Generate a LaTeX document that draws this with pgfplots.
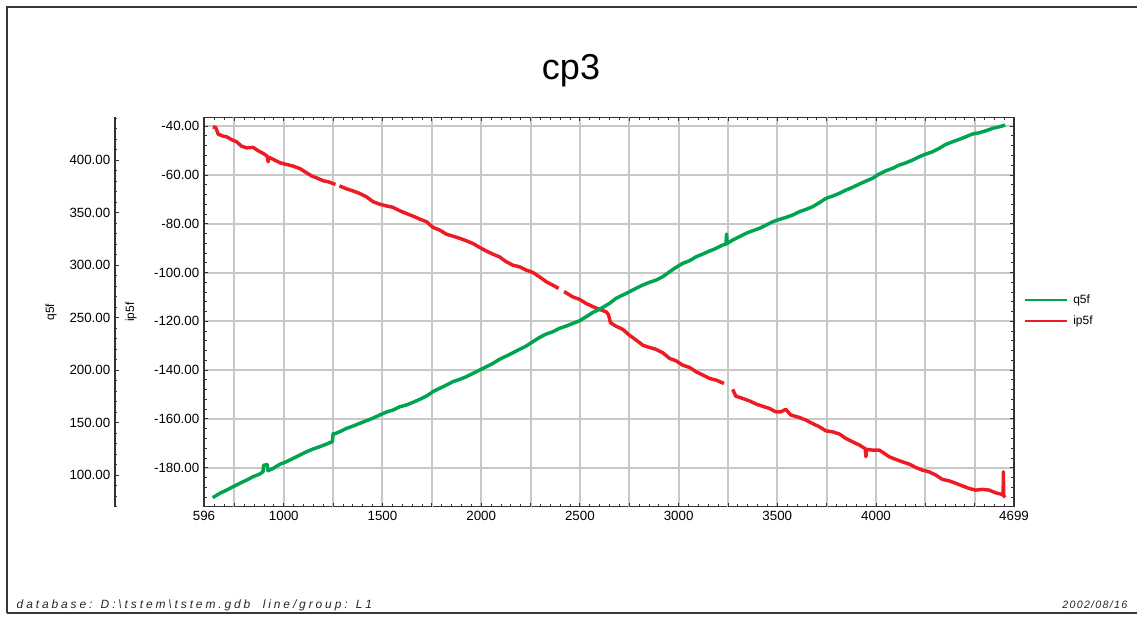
\documentclass[border=0pt]{standalone}
\usepackage{pgfplots}
\pgfplotsset{compat=1.18}
\usepackage{fontspec}
\setmainfont{Liberation Sans}
\newfontfamily\footfont[LetterSpace=12]{Liberation Sans}
\newfontfamily\footwidefont[LetterSpace=24]{Liberation Sans}

\definecolor{seriesA}{RGB}{0,163,80}
\definecolor{seriesB}{RGB}{237,28,36}
\definecolor{gridgray}{RGB}{200,200,200}
\definecolor{framegray}{RGB}{55,55,55}

% ip5f trace (nan rows mark the gaps in the record)
\pgfplotstableread{
x y
640 -40.3
655 -40.5
668 -43.3
690 -44.0
711 -44.4
735 -45.5
761 -46.4
786 -48.2
812 -48.9
845 -48.7
871 -50.1
896 -51.2
916 -52.3
921 -54.6
925 -52.8
947 -53.6
980 -55.0
1014 -55.7
1048 -56.4
1082 -57.4
1107 -58.7
1141 -60.4
1166 -61.2
1200 -62.4
1225 -62.8
1262 -63.9
1270 nan
1282 -64.5
1318 -65.7
1352 -66.6
1385 -67.6
1419 -69.0
1453 -71.0
1486 -72.0
1520 -72.7
1554 -73.3
1588 -74.7
1621 -75.8
1655 -76.9
1689 -78.1
1723 -79.2
1756 -81.5
1790 -82.6
1824 -84.3
1857 -85.1
1891 -86.0
1925 -87.0
1958 -88.1
1992 -89.7
2026 -91.2
2060 -92.5
2093 -93.6
2127 -95.6
2161 -97.0
2195 -97.7
2228 -99.0
2262 -100.0
2296 -101.8
2330 -103.8
2363 -105.2
2392 -106.5
2405 nan
2420 -107.8
2464 -110.0
2498 -111.0
2532 -112.7
2566 -114.0
2599 -115.1
2633 -116.1
2645 -117.3
2655 -120.6
2683 -122.0
2717 -123.3
2751 -125.7
2785 -127.7
2819 -129.8
2852 -130.7
2886 -131.5
2920 -132.9
2954 -135.2
2987 -136.2
3021 -138.0
3055 -138.9
3089 -140.7
3122 -142.0
3156 -143.4
3190 -144.1
3230 -145.5
3250 nan
3274 -147.9
3290 -150.7
3324 -151.6
3358 -152.6
3392 -153.9
3425 -154.8
3459 -155.7
3493 -157.1
3518 -157.1
3543 -156.1
3568 -158.4
3611 -159.4
3645 -160.5
3678 -161.9
3712 -163.2
3746 -164.9
3780 -165.3
3814 -166.2
3847 -168.0
3881 -169.4
3915 -170.7
3945 -172.2
3949 -175.5
3953 -172.5
3982 -172.8
4016 -172.8
4041 -174.1
4066 -175.5
4100 -176.6
4133 -177.6
4167 -178.5
4201 -179.9
4235 -181.0
4269 -181.7
4302 -183.0
4336 -184.8
4370 -185.4
4404 -186.4
4438 -187.5
4471 -188.5
4505 -189.2
4539 -188.9
4573 -189.2
4606 -190.3
4631 -190.8
4644 -191.2
4645 -181.7
4647 -191.5
4654 -192.2
}\ipdata

% q5f trace
\pgfplotstableread{
x y
640 78.4
677 82.6
711 85.7
744 88.9
778 92.1
812 95.2
845 98.4
879 101.0
895 103.1
898 109.3
916 109.8
920 104.1
947 106.3
980 110.2
1014 112.7
1048 115.9
1082 119.0
1116 122.2
1149 124.8
1183 127.0
1217 129.5
1246 131.7
1250 139.3
1255 139.0
1284 141.3
1318 144.4
1352 146.7
1385 149.2
1419 151.7
1453 154.3
1486 157.1
1520 160.0
1554 161.9
1588 165.0
1621 166.7
1655 169.2
1689 172.1
1723 175.2
1756 179.4
1790 182.6
1824 185.7
1857 188.9
1891 191.1
1925 193.6
1958 196.8
1992 200.0
2026 203.2
2060 206.4
2093 210.2
2127 213.3
2161 216.5
2195 219.7
2228 222.9
2262 227.0
2296 231.1
2330 234.3
2363 236.5
2397 239.7
2431 241.9
2464 244.4
2498 246.9
2532 250.8
2566 254.9
2599 257.8
2650 263.5
2683 268.3
2717 271.4
2751 274.6
2785 277.8
2819 281.0
2852 283.5
2886 285.7
2920 288.9
2954 293.6
2987 297.8
3021 301.6
3055 304.1
3089 307.9
3122 310.5
3156 313.3
3190 315.9
3223 319.0
3240 320.0
3243 329.5
3246 320.6
3274 323.8
3308 327.0
3341 330.2
3375 332.7
3409 334.9
3443 338.1
3476 341.2
3510 343.5
3544 345.4
3577 347.6
3611 350.8
3645 353.0
3678 355.5
3712 359.3
3746 363.5
3780 365.7
3814 368.3
3847 371.4
3881 374.0
3915 377.1
3949 380.0
3982 382.6
4016 386.7
4050 389.8
4083 392.1
4117 395.2
4151 397.4
4185 400.0
4218 403.1
4252 405.7
4286 407.9
4319 411.1
4353 414.9
4387 417.4
4421 419.7
4455 422.2
4488 424.8
4522 426.0
4556 427.9
4590 430.2
4623 431.7
4654 433.3
}\qdata

\pgfplotsset{
  chartbase/.style={
    scale only axis,
    width=607.5pt, height=292pt,
    xmin=596, xmax=4699,
    at={(153pt,82.725pt)}, anchor=south west,
  },
  twodec/.style={
    yticklabel={\pgfmathprintnumber[fixed,fixed zerofill,precision=2,assume math mode=true]{\tick}},
  },
}

\begin{document}
\begin{tikzpicture}[x=0.75pt,y=0.75pt]
\path[use as bounding box] (0,0) rectangle (1137,617);
% page frame
\draw[framegray, line width=1.5pt] (7,4) -- (7,610) -- (1137,610);
\draw[framegray, line width=1.5pt] (7,4) -- (1137,4);

% title
\node[anchor=base, font=\fontsize{27}{30}\selectfont] at (571,537) {cp3};

% footer
\node[anchor=base west, font=\footwidefont\itshape\fontsize{9}{11}\selectfont, text=black!85] at (12,9)
  {database: D:\textbackslash tstem\textbackslash tstem.gdb\ \ line/group: L1};
\node[anchor=base east, font=\footfont\itshape\fontsize{8}{10}\selectfont, text=black!85] at (1132,9)
  {2002/08/16};

% key at the right of the plot
\draw[seriesA, line width=1pt] (1025,317) -- (1067,317);
\node[anchor=west, inner sep=0pt, font=\fontsize{9}{11}\selectfont] at (1073,317) {q5f};
\draw[seriesB, line width=1pt] (1025,296) -- (1067,296);
\node[anchor=west, inner sep=0pt, font=\fontsize{9}{11}\selectfont] at (1073,296) {ip5f};

% main axis: x scale, ip5f scale, grid
\begin{axis}[chartbase,
  ymin=-196, ymax=-36.4,
  axis line style={black!80, line width=1pt},
  tick align=inside,
  xtick={596,1000,1500,2000,2500,3000,3500,4000,4699},
  xticklabels={596,1000,1500,2000,2500,3000,3500,4000,4699},
  extra x ticks={750,1250,1750,2250,2750,3250,3750,4250,4500},
  extra x tick labels={},
  extra x tick style={grid=major},
  minor xtick={600,650,...,4650},
  ytick={-180,-160,...,-40},
  minor ytick={-196,-192,...,-40},
  twodec,
  grid=major,
  major grid style={gridgray, line width=1.5pt},
  major tick length=3pt, minor tick length=2pt,
  tick style={black!80, line width=0.6pt},
  ticklabel style={font=\fontsize{10}{12}\selectfont},
  ylabel={ip5f},
  ylabel style={at={(axis description cs:-0.0901,0.5)}, anchor=center, font=\fontsize{9}{11}\selectfont},
  unbounded coords=jump,
]
\addplot[seriesB, line width=2.6pt, line join=round] table[x=x,y=y] {\ipdata};
\end{axis}

% q5f series, sharing the x range
\begin{axis}[chartbase,
  ymin=69.8, ymax=440.7,
  hide axis,
]
\addplot[seriesA, line width=2.6pt, line join=round] table[x=x,y=y] {\qdata};
\end{axis}

% q5f scale on the far left
\begin{axis}[
  scale only axis, width=10pt, height=292pt,
  at={(86.25pt,82.725pt)}, anchor=south west,
  xmin=0, xmax=1, ymin=69.8, ymax=440.7,
  hide x axis,
  axis y line*=left,
  axis line style={black!80, line width=0.8pt},
  tick align=inside,
  ytick={100,150,...,400},
  minor ytick={70,80,...,440},
  twodec,
  major tick length=3pt, minor tick length=1.6pt,
  tick style={black!80, line width=0.6pt},
  ticklabel style={font=\fontsize{10}{12}\selectfont},
  ylabel={q5f},
  ylabel style={at={(axis description cs:-4.8,0.5)}, anchor=center, font=\fontsize{9}{11}\selectfont},
]
\end{axis}
\end{tikzpicture}
\end{document}
